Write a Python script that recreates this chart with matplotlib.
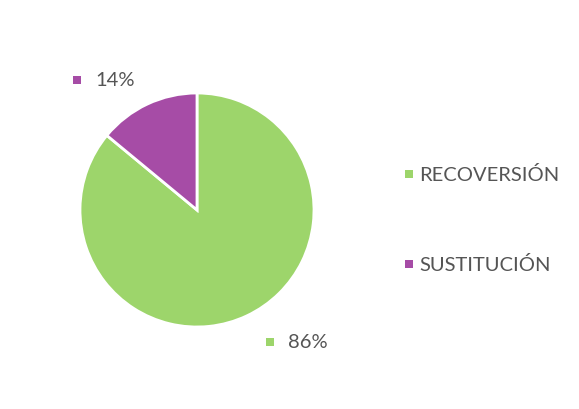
import matplotlib
matplotlib.use("Agg")
import matplotlib.pyplot as plt
from matplotlib.patches import Rectangle

categories = ["RECOVERSIÓN", "SUSTITUCIÓN"]
values = [86, 14]
colors = ["#9DD56B", "#A64CA6"]

W, H = 579, 410
fig = plt.figure(figsize=(W / 100, H / 100), dpi=100)
fig.patch.set_facecolor("white")

cx, cy, r = 197, 211, 117
ax = fig.add_axes([(cx - r) / W, (H - cy - r) / H, 2 * r / W, 2 * r / H])
ax.pie(values, colors=colors, startangle=90, counterclock=False, radius=1,
       wedgeprops=dict(edgecolor="white", linewidth=2))
ax.set_xlim(-1, 1)
ax.set_ylim(-1, 1)
ax.set_aspect("equal")
ax.axis("off")

txt_color = "#555555"
font = "Lato"
fs = 14.5
sq = 8

def square(px, py, color):
    fig.patches.append(Rectangle(((px - sq / 2) / W, (H - py - sq / 2) / H), sq / W, sq / H,
                                 transform=fig.transFigure, facecolor=color, edgecolor="none"))

total = sum(values)
# data labels
label_pos = {0: (270, 343), 1: (77, 81)}
for i, v in enumerate(values):
    px, py = label_pos[i]
    square(px, py, colors[i])
    fig.text((px + 18) / W, (H - py) / H, f"{round(100 * v / total)}%", color=txt_color,
             fontsize=fs, family=font, va="center", ha="left")

# legend
leg_pos = [(409, 175), (409, 265)]
for i, c in enumerate(categories):
    px, py = leg_pos[i]
    square(px, py, colors[i])
    fig.text((px + 10) / W, (H - py) / H, c, color=txt_color,
             fontsize=fs, family=font, va="center", ha="left")

fig.savefig("out.png", dpi=100, facecolor="white")
